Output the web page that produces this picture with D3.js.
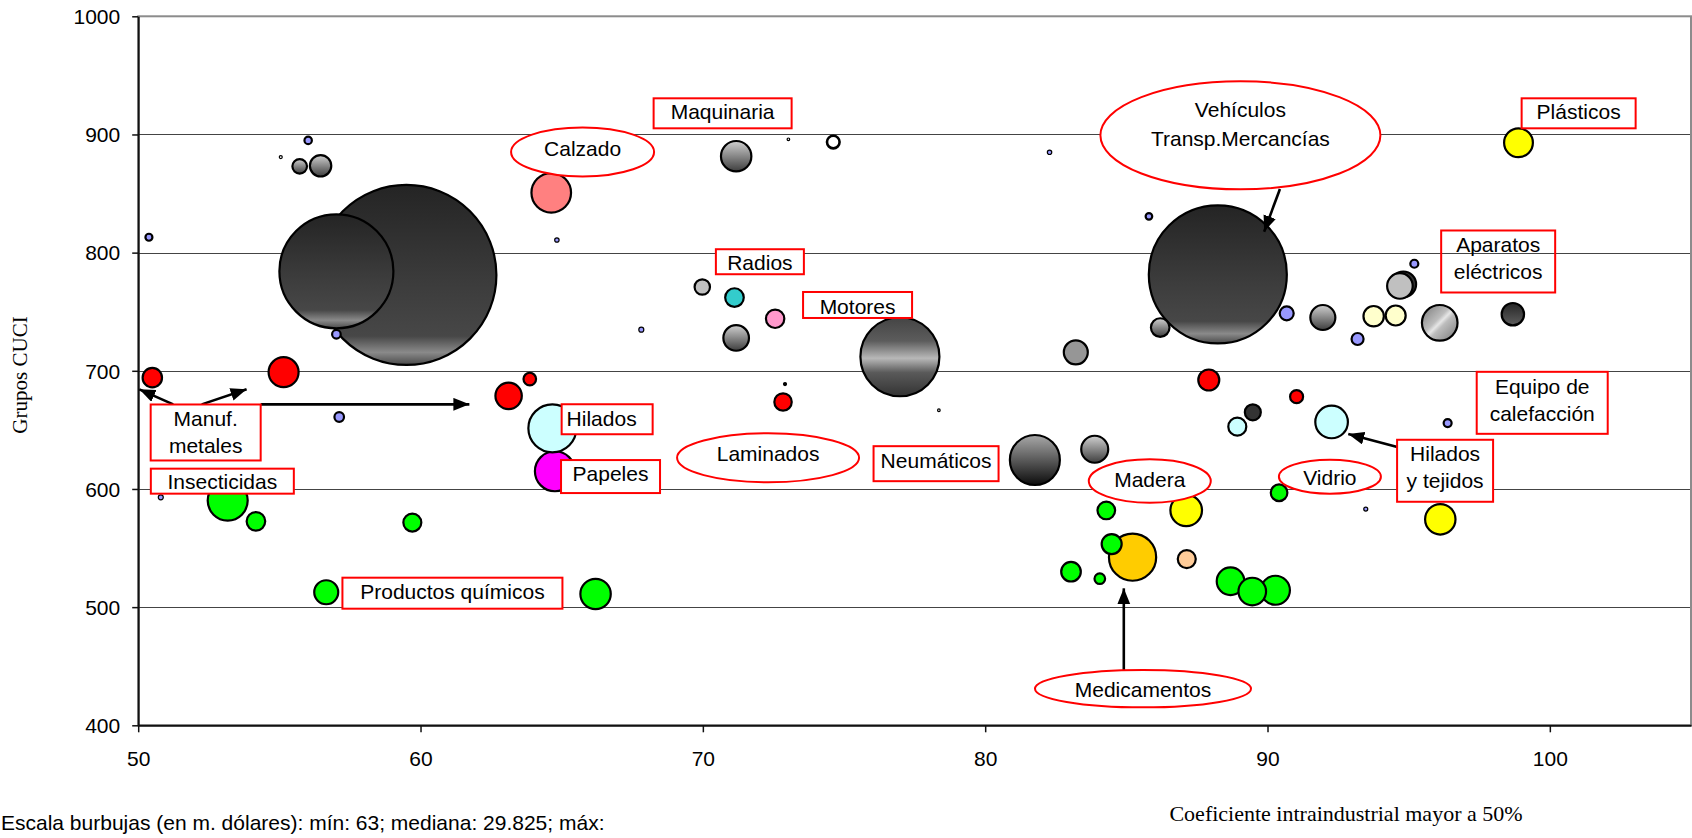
<!DOCTYPE html>
<html>
<head>
<meta charset="utf-8">
<script src="https://cdn.jsdelivr.net/npm/d3@7"></script>
<style>
  html, body { margin: 0; padding: 0; background: #ffffff; }
  svg { display: block; }
</style>
</head>
<body>
<svg id="chart" width="1692" height="838"></svg>
<script>
// Bubbles, in drawing order (largest first, so small ones stay visible)
// coef: coeficiente intraindustrial (%), grupo: grupo CUCI, valor: comercio en m. dólares
const coef = [
  59.50, 88.24, 57.02, 76.98, 81.76, 85.22, 64.76, 64.67, 53.17, 64.63,
  96.10, 92.27, 87.12, 55.15, 71.18, 66.20, 96.12, 90.28, 98.89, 88.69,
  89.46, 83.88, 63.12, 71.18, 94.81, 94.69, 91.96, 83.21, 56.66, 98.69,
  56.46, 87.92, 93.76, 94.54, 84.48, 83.04, 50.50, 71.12, 54.17, 86.20,
  72.56, 59.71, 88.93, 87.14, 84.29, 72.84, 90.41, 89.48, 69.98, 55.72,
  90.68, 91.03, 74.62, 63.87, 93.19, 84.06, 57.12, 57.02, 95.20, 96.38,
  56.02, 50.38, 85.80, 67.82, 50.80, 64.83, 82.28, 93.48, 72.91, 55.05,
  73.03, 78.36
];
const grupo = [
  781.1, 781.6, 784.2, 711.9, 624.5, 542.3, 615.0, 651.3, 590.2, 850.6,
  740.6, 656.7, 581.9, 698.8, 881.6, 511.1, 574.3, 514.3, 893.0, 521.9,
  513.2, 633.6, 678.8, 727.8, 773.2, 771.8, 745.1, 715.6, 512.6, 747.9,
  873.5, 692.2, 746.2, 746.8, 553.4, 530.0, 694.2, 762.0, 572.6, 736.6,
  744.0, 571.6, 652.7, 540.7, 581.8, 673.6, 596.8, 664.9, 770.9, 873.0,
  748.6, 678.1, 893.6, 693.0, 726.9, 524.1, 660.9, 730.9, 790.6, 655.8,
  895.0, 813.0, 830.7, 734.8, 592.9, 810.7, 884.9, 583.0, 688.8, 880.9,
  895.9, 666.6
];
const valor = [
  1870000, 1099300, 750200, 360260, 144300, 128600, 92360, 133000, 92360, 90520,
  73160, 61350, 57640, 51950, 53350, 53350, 53350, 48550, 47880, 43970,
  43970, 42080, 40230, 37830, 37830, 37830, 36080, 33250, 33250, 28960,
  26440, 25460, 24020, 23090, 23090, 22180, 21720, 19970, 19970, 19970,
  19540, 18700, 18700, 18700, 17880, 17480, 15910, 14780, 13690, 12300,
  11310, 9760, 9160, 9160, 8310, 6490, 5320, 4270, 3690, 3690,
  3160, 2830, 2510, 1440, 1440, 1120, 1120, 920, 520, 520,
  390, 390
];
const tono = [
  "oscuro", "oscuro", "oscuro", "franja", "negro", "naranja", "magenta", "celeste", "verde", "salmon",
  "grisDiag", "celeste", "amarillo", "rojo", "gris", "verde", "amarillo", "verde", "amarillo", "verde",
  "verde", "gris", "rojo", "gris", "plomo", "plata", "gris", "grisMedio", "verde", "grisOscuro",
  "gris", "rojo", "crema", "crema", "verde", "verde", "rojo", "turquesa", "verde", "gris",
  "rosa", "verde", "celeste", "durazno", "verde", "rojo", "verde", "plomo", "plata", "gris",
  "azul", "rojo", "blanco", "rojo", "azul", "verde", "azul", "azul", "azul", "azul",
  "azul", "azul", "azul", "azul", "azul", "azul", "azul", "azul", "tinta", "blanco",
  "blanco", "blanco"
];

// Axis ticks
const xTicks = [50, 60, 70, 80, 90, 100];
const yTicks = [400, 500, 600, 700, 800, 900, 1000];

// Callout texts
const rotulos = [
  ["Calzado"], ["Maquinaria"], ["Radios"], ["Motores"], ["Vehículos", "Transp.Mercancías"],
  ["Plásticos"], ["Aparatos", "eléctricos"], ["Manuf.", "metales"], ["Insecticidas"],
  ["Hilados"], ["Papeles"], ["Productos químicos"], ["Laminados"], ["Neumáticos"],
  ["Madera"], ["Vidrio"], ["Hilados", "y tejidos"], ["Equipo de", "calefacción"], ["Medicamentos"]
];

const titulo = {
  x: "Coeficiente intraindustrial mayor a 50%",
  y: "Grupos CUCI",
  nota: "Escala burbujas (en m. dólares): mín: 63; mediana: 29.825; máx:"
};

// ---- layout ----
const W = 1692, H = 838;
const x = d3.scaleLinear().domain([50, 105]).range([138.2, 1691]);
const y = d3.scaleLinear().domain([400, 1000]).range([725.3, 16.3]);
const r = d3.scaleSqrt().domain([0, 1870000]).range([0, 90]);

const colores = {
  oscuro: "url(#gOscuro)", franja: "url(#gFranja)", negro: "url(#gNegro)",
  gris: "url(#gGris)", grisDiag: "url(#gDiag)", grisOscuro: "url(#gOscuro2)",
  grisMedio: "#969696", plomo: "#333333", plata: "#C0C0C0",
  rojo: "#FF0000", verde: "#00FF00", azul: "#9999FF", amarillo: "#FFFF00",
  crema: "#FFFFCC", celeste: "#CCFFFF", magenta: "#FF00FF", turquesa: "#33CCCC",
  rosa: "#FF99CC", salmon: "#FF8080", naranja: "#FFCC00", durazno: "#FFCC99",
  blanco: "#FFFFFF", tinta: "#000000"
};

// callout frames: anchor in data units, size in px, text offset in px
const marcos = [
  { forma: "elipse", cx: 65.74, cy: 885.2, rx: 71.5, ry: 24.5, dy: -3.7 },
  { forma: "caja", cx: 70.70, cy: 917.9, w: 138, h: 30, dy: -1.5 },
  { forma: "caja", cx: 72.02, cy: 792.3, w: 88, h: 25, dy: 1 },
  { forma: "caja", cx: 75.48, cy: 755.7, w: 109, h: 26, dy: 1.5 },
  { forma: "elipse", cx: 89.04, cy: 899.3, rx: 140, ry: 54, dy: -25.3, paso: 28.3 },
  { forma: "caja", cx: 101.02, cy: 917.9, w: 114, h: 30, dy: -2 },
  { forma: "caja", cx: 98.17, cy: 792.5, w: 114, h: 62, dy: -16.8, hueca: true },
  { forma: "caja", cx: 52.39, cy: 647.8, w: 110, h: 56, dy: -14.2 },
  { forma: "caja", cx: 52.98, cy: 606.6, w: 143, h: 25, dy: 0.8 },
  { forma: "caja", cx: 66.61, cy: 659.0, w: 91, h: 30, dy: -1, dx: -5.5 },
  { forma: "caja", cx: 66.73, cy: 610.5, w: 99, h: 33, dy: -3 },
  { forma: "caja", cx: 61.13, cy: 511.8, w: 220, h: 31, dy: -1.5 },
  { forma: "elipse", cx: 72.31, cy: 626.4, rx: 91, ry: 24.5, dy: -4 },
  { forma: "caja", cx: 78.26, cy: 621.4, w: 125, h: 35, dy: -3 },
  { forma: "elipse", cx: 85.83, cy: 606.7, rx: 61, ry: 21.7, dy: -1.5 },
  { forma: "elipse", cx: 92.21, cy: 610.4, rx: 51, ry: 17, dy: 1.3 },
  { forma: "caja", cx: 96.29, cy: 615.4, w: 96, h: 62, dy: -17 },
  { forma: "caja", cx: 99.73, cy: 672.9, w: 131, h: 62, dy: -16.5 },
  { forma: "elipse", cx: 85.59, cy: 431.0, rx: 108, ry: 18.7, dy: 0.8 }
];

// arrows: [from, to] in data units
const flechas = [
  [[90.44, 853.8], [89.88, 817.7]],
  [[51.24, 671.6], [50.04, 684.3]],
  [[52.25, 671.6], [53.84, 684.3]],
  [[54.34, 671.6], [61.73, 671.6]],
  [[94.63, 635.3], [92.86, 646.5]],
  [[84.91, 446.8], [84.91, 515.9]]
];

const SANS = "'Liberation Sans', Arial, Helvetica, sans-serif";
const SERIF = "'Liberation Serif', 'Times New Roman', serif";

const svg = d3.select("#chart");
const defs = svg.append("defs");

function gradiente(id, stops, dir) {
  const d = dir || [0, 0, 0, 1];
  const g = defs.append("linearGradient").attr("id", id)
    .attr("x1", d[0]).attr("y1", d[1]).attr("x2", d[2]).attr("y2", d[3]);
  stops.forEach(([o, c]) => g.append("stop").attr("offset", o).attr("stop-color", c));
}
gradiente("gOscuro", [[0, "#242424"], [0.55, "#3c3c3c"], [0.84, "#474747"], [0.93, "#8a8a8a"], [1, "#4a4a4a"]]);
gradiente("gFranja", [[0, "#444444"], [0.3, "#5c5c5c"], [0.52, "#b8b8b8"], [0.7, "#5a5a5a"], [1, "#333333"]]);
gradiente("gNegro", [[0, "#a8a8a8"], [1, "#0c0c0c"]]);
gradiente("gGris", [[0, "#d0d0d0"], [1, "#3e3e3e"]]);
gradiente("gDiag", [[0, "#777777"], [0.42, "#bdbdbd"], [0.5, "#e6e6e6"], [0.58, "#bdbdbd"], [1, "#777777"]], [0, 0, 1, 1]);
gradiente("gOscuro2", [[0, "#262626"], [1, "#5e5e5e"]]);

defs.append("marker").attr("id", "punta")
  .attr("markerUnits", "userSpaceOnUse")
  .attr("markerWidth", 17).attr("markerHeight", 14)
  .attr("refX", 16).attr("refY", 6.5).attr("orient", "auto")
  .append("path").attr("d", "M0,0 L16,6.5 L0,13 Z").attr("fill", "#000");

svg.append("rect").attr("width", W).attr("height", H).attr("fill", "#fff");

// gridlines
svg.append("g").selectAll("line")
  .data(yTicks.filter(v => v > 400 && v < 1000))
  .join("line")
  .attr("x1", x(50)).attr("x2", x(105))
  .attr("y1", d => Math.round(y(d)) + 0.5).attr("y2", d => Math.round(y(d)) + 0.5)
  .attr("stroke", "#444").attr("stroke-width", 1);

// plot frame
svg.append("rect")
  .attr("x", x(50)).attr("y", y(1000))
  .attr("width", x(105) - x(50)).attr("height", y(400) - y(1000))
  .attr("fill", "none").attr("stroke", "#8c8c8c").attr("stroke-width", 2);

// axes
const yAxis = d3.axisLeft(y).tickValues(yTicks).tickSize(6).tickSizeOuter(0)
  .tickPadding(12).tickFormat(d3.format("d"));
svg.append("g").attr("transform", `translate(${x(50)},0)`).call(yAxis)
  .call(g => g.select(".domain").attr("stroke", "#111").attr("stroke-width", 2))
  .call(g => g.selectAll(".tick line").attr("stroke", "#111").attr("stroke-width", 1.5))
  .call(g => g.selectAll(".tick text").attr("font-family", SANS).attr("font-size", 21)
    .attr("fill", "#000").attr("dy", "0.35em"));

const xAxis = d3.axisBottom(x).tickValues(xTicks).tickSize(7).tickSizeOuter(0)
  .tickPadding(19).tickFormat(d3.format("d"));
svg.append("g").attr("transform", `translate(0,${y(400)})`).call(xAxis)
  .call(g => g.select(".domain").attr("stroke", "#111").attr("stroke-width", 2))
  .call(g => g.selectAll(".tick line").attr("stroke", "#111").attr("stroke-width", 1.5))
  .call(g => g.selectAll(".tick text").attr("font-family", SANS).attr("font-size", 21).attr("fill", "#000"));

// bubbles
const burbujas = coef.map((c, i) => ({ c, g: grupo[i], v: valor[i], t: tono[i] }));
svg.append("g").selectAll("circle")
  .data(burbujas)
  .join("circle")
  .attr("cx", d => x(d.c))
  .attr("cy", d => y(d.g))
  .attr("r", d => r(d.v))
  .attr("fill", d => colores[d.t])
  .attr("stroke", "#000")
  .attr("stroke-width", d => r(d.v) < 3 ? 1.2 : (d.t === "blanco" ? 2.6 : 2.2));

// arrows
svg.append("g").selectAll("line")
  .data(flechas)
  .join("line")
  .attr("x1", d => x(d[0][0])).attr("y1", d => y(d[0][1]))
  .attr("x2", d => x(d[1][0])).attr("y2", d => y(d[1][1]))
  .attr("stroke", "#000").attr("stroke-width", 2.6)
  .attr("marker-end", "url(#punta)");

// callouts
const capa = svg.append("g");
marcos.forEach((m, i) => {
  const cx = x(m.cx), cy = y(m.cy);
  if (m.forma === "elipse") {
    capa.append("ellipse").attr("cx", cx).attr("cy", cy).attr("rx", m.rx).attr("ry", m.ry)
      .attr("fill", "#fff").attr("stroke", "#FF0000").attr("stroke-width", 2);
  } else {
    capa.append("rect").attr("x", cx - m.w / 2).attr("y", cy - m.h / 2)
      .attr("width", m.w).attr("height", m.h)
      .attr("fill", m.hueca ? "none" : "#fff").attr("stroke", "#FF0000").attr("stroke-width", 2);
  }
  const paso = m.paso || 27;
  rotulos[i].forEach((linea, k) => {
    capa.append("text")
      .attr("x", cx + (m.dx || 0))
      .attr("y", cy + m.dy + k * paso + 7.5)
      .attr("text-anchor", "middle")
      .attr("font-family", SANS).attr("font-size", 21).attr("fill", "#000")
      .text(linea);
  });
});

// axis titles and scale note
svg.append("text")
  .attr("transform", `translate(27,375) rotate(-90)`)
  .attr("text-anchor", "middle")
  .attr("font-family", SERIF).attr("font-size", 21).attr("fill", "#000")
  .text(titulo.y);

svg.append("text")
  .attr("x", 1346).attr("y", 821)
  .attr("text-anchor", "middle")
  .attr("font-family", SERIF).attr("font-size", 22).attr("fill", "#000")
  .text(titulo.x);

svg.append("text")
  .attr("x", 1).attr("y", 830)
  .attr("font-family", SANS).attr("font-size", 21).attr("fill", "#000")
  .text(titulo.nota);
</script>
</body>
</html>
